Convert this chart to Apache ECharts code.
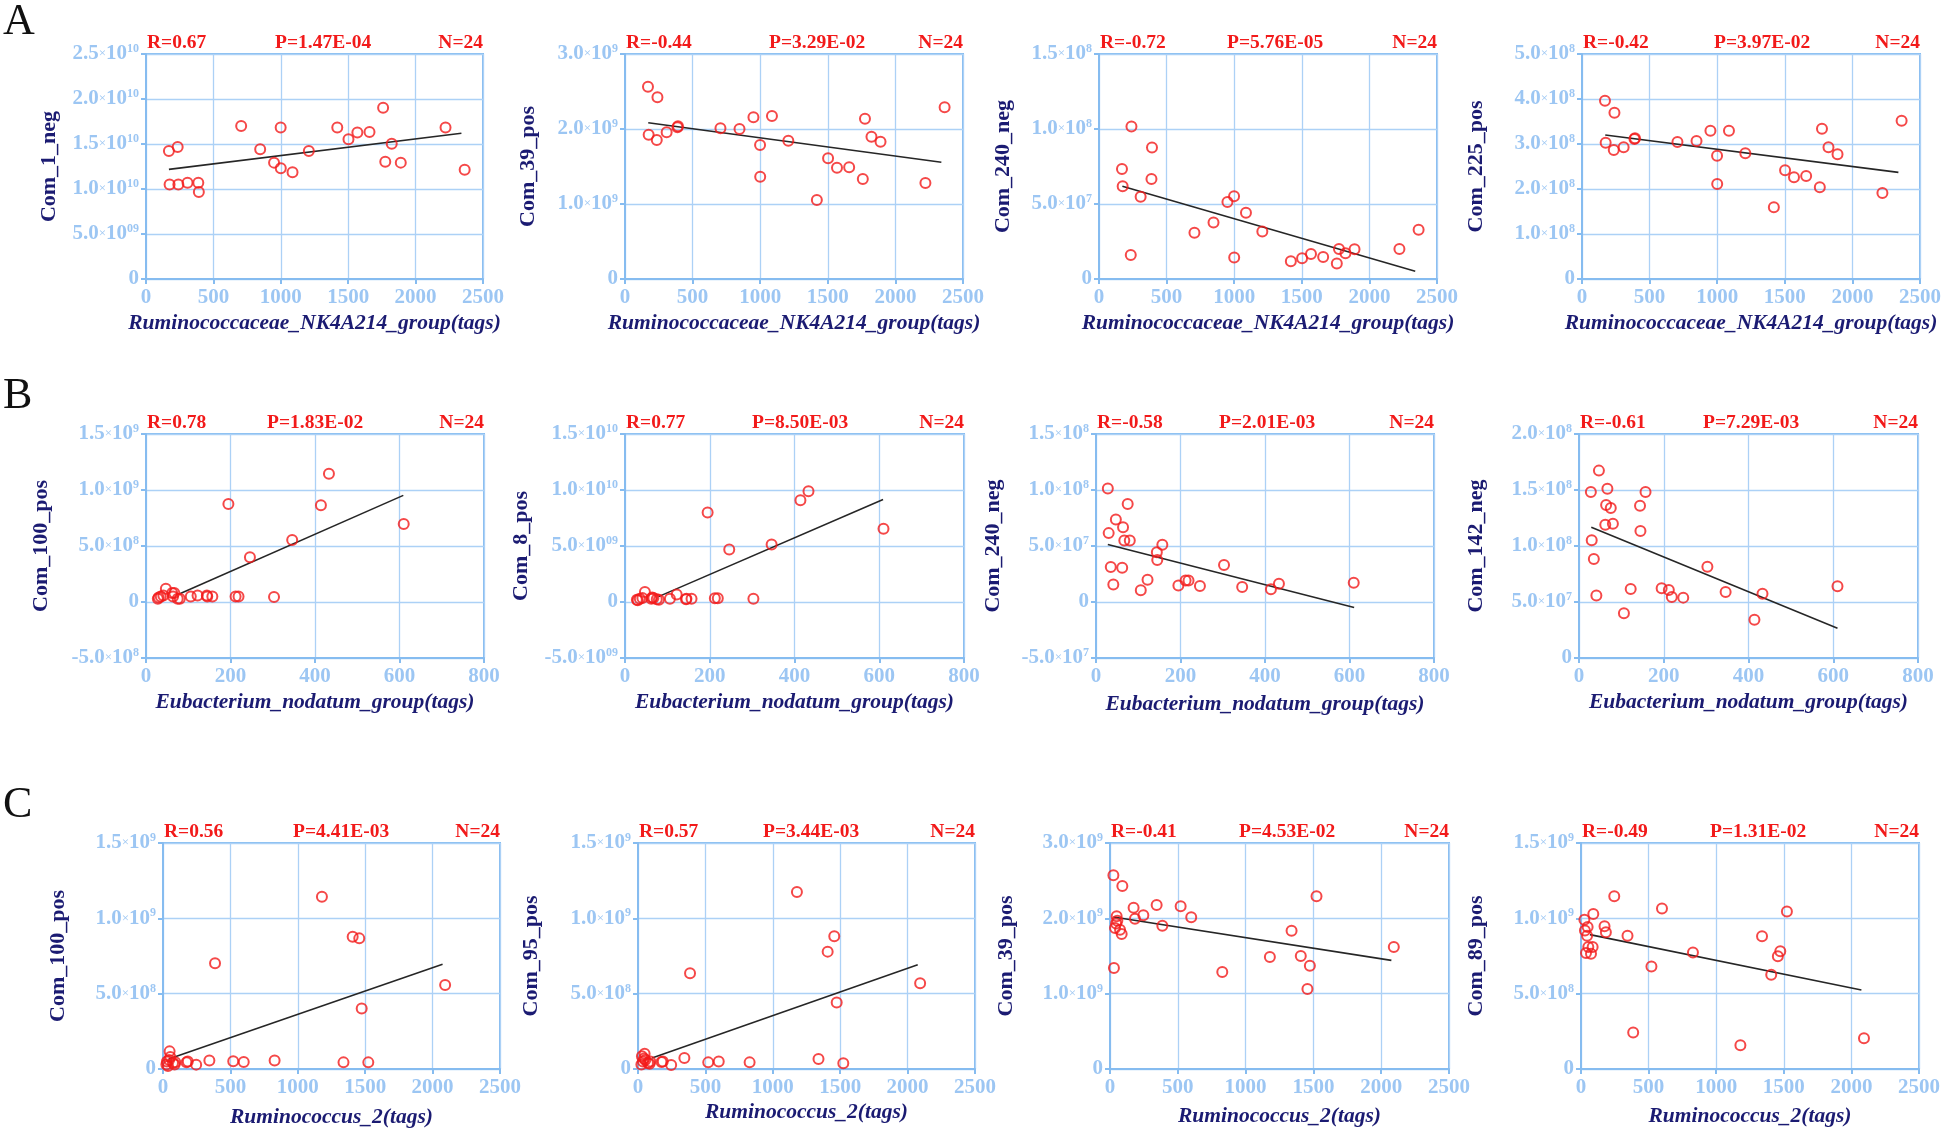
<!DOCTYPE html>
<html><head><meta charset="utf-8">
<script src="https://cdn.jsdelivr.net/npm/echarts@6/dist/echarts.min.js"></script>
<style>html,body{margin:0;padding:0;background:#fff}#c{width:1944px;height:1134px}</style>
</head><body><div id="c"></div>
<script>
// ---------------- DATA ----------------
const xTicks2500 = ['0','500','1000','1500','2000','2500'];
const xTicks800 = ['0','200','400','600','800'];
const xNameA = 'Ruminococcaceae_NK4A214_group(tags)';
const xNameB = 'Eubacterium_nodatum_group(tags)';
const xNameC = 'Ruminococcus_2(tags)';

const xRowA = [170,175,235,240,308,388,392,706,847,950,999,1000,1087,1208,1419,1502,1568,1658,1759,1775,1823,1890,2222,2364];
const xRowB = [28,30,35,41,47,62,64,67,75,80,106,122,144,145,157,195,212,219,246,303,346,414,433,610];
const xRowC = [25,29,37,45,49,54,74,86,91,174,184,246,344,386,521,599,828,1179,1339,1407,1456,1474,1523,2093];

const yA1_Com_1_neg = [1.423e10,1.051e10,1.467e10,1.051e10,1.07e10,1.07e10,0.966e10,1.70e10,1.441e10,1.293e10,1.683e10,1.23e10,1.185e10,1.423e10,1.683e10,1.553e10,1.627e10,1.634e10,1.902e10,1.304e10,1.504e10,1.293e10,1.683e10,1.215e10];
const yA2_Com_39_pos = [2.564e9,1.924e9,1.853e9,2.422e9,1.956e9,2.022e9,2.036e9,2.009e9,2.0e9,2.156e9,1.787e9,1.364e9,2.173e9,1.844e9,1.053e9,1.609e9,1.484e9,1.489e9,1.333e9,2.138e9,1.898e9,1.831e9,1.28e9,2.289e9];
const yA3_Com_240_neg = [7.33e7,6.18e7,1.6e7,10.16e7,5.49e7,6.67e7,8.76e7,3.09e7,3.76e7,5.13e7,5.51e7,1.44e7,4.42e7,3.16e7,1.18e7,1.38e7,1.67e7,1.47e7,1.04e7,2.0e7,1.71e7,1.98e7,2.0e7,3.29e7];
const yA4_Com_225_pos = [3.963e8,3.03e8,2.867e8,3.696e8,2.926e8,3.111e8,3.13e8,3.044e8,3.067e8,3.296e8,2.741e8,2.111e8,3.296e8,2.793e8,1.593e8,2.415e8,2.259e8,2.289e8,2.037e8,3.341e8,2.926e8,2.770e8,1.911e8,3.519e8];

const yB1_Com_100_pos = [0.03e9,0.04e9,0.05e9,0.057e9,0.119e9,0.08e9,0.05e9,0.08e9,0.03e9,0.03e9,0.05e9,0.057e9,0.057e9,0.05e9,0.05e9,0.875e9,0.05e9,0.05e9,0.399e9,0.045e9,0.554e9,0.863e9,1.146e9,0.696e9];
const yB2_Com_8_pos = [0.02e10,0.015e10,0.03e10,0.035e10,0.089e10,0.03e10,0.04e10,0.035e10,0.025e10,0.02e10,0.03e10,0.068e10,0.025e10,0.028e10,0.03e10,0.799e10,0.033e10,0.033e10,0.469e10,0.03e10,0.514e10,0.909e10,0.989e10,0.653e10];
const yB3_Com_240_neg = [10.13e7,6.15e7,3.12e7,1.57e7,7.37e7,3.06e7,6.68e7,5.49e7,8.76e7,5.49e7,1.04e7,1.99e7,4.45e7,3.74e7,5.11e7,1.48e7,1.93e7,1.93e7,1.43e7,3.3e7,1.34e7,1.13e7,1.63e7,1.72e7];
const yB4_Com_142_neg = [1.482e8,1.051e8,0.884e8,0.557e8,1.673e8,1.19e8,1.366e8,1.512e8,1.339e8,1.199e8,0.399e8,0.616e8,1.36e8,1.134e8,1.482e8,0.622e8,0.607e8,0.545e8,0.539e8,0.815e8,0.589e8,0.342e8,0.574e8,0.64e8];

const yC1_Com_100_pos = [0.03e9,0.05e9,0.02e9,0.06e9,0.117e9,0.08e9,0.04e9,0.03e9,0.045e9,0.044e9,0.05e9,0.029e9,0.057e9,0.702e9,0.051e9,0.046e9,0.057e9,1.143e9,0.044e9,0.878e9,0.867e9,0.401e9,0.044e9,0.558e9];
const yC2_Com_95_pos = [0.03e9,0.084e9,0.05e9,0.07e9,0.102e9,0.06e9,0.04e9,0.035e9,0.05e9,0.046e9,0.05e9,0.027e9,0.073e9,0.635e9,0.044e9,0.049e9,0.044e9,1.175e9,0.066e9,0.779e9,0.881e9,0.442e9,0.038e9,0.569e9];
const yC3_Com_39_pos = [2.571e9,1.341e9,1.872e9,1.93e9,2.027e9,1.969e9,1.85e9,1.792e9,2.429e9,2.142e9,1.996e9,2.04e9,2.177e9,1.903e9,2.159e9,2.013e9,1.288e9,1.487e9,1.836e9,1.5e9,1.062e9,1.372e9,2.292e9,1.619e9];
const yC4_Com_89_pos = [0.991e9,0.92e9,0.77e9,0.885e9,0.942e9,0.81e9,0.765e9,0.81e9,1.029e9,0.947e9,0.907e9,1.146e9,0.885e9,0.243e9,0.681e9,1.066e9,0.774e9,0.157e9,0.881e9,0.626e9,0.748e9,0.781e9,1.046e9,0.204e9];

// regression line end points
const fitA1 = [[170,1.218e10],[2340,1.62e10]];
const fitA2 = [[172,2.084e9],[2340,1.556e9]];
const fitA3 = [[173,6.18e7],[2339,5.1e6]];
const fitA4 = [[172,3.2e8],[2340,2.37e8]];
const fitB1 = [[80,7.4e7],[609,9.52e8]];
const fitB2 = [[79,4.8e8],[609,9.15e9]];
const fitB3 = [[28,5.14e7],[611,-5.0e6]];
const fitB4 = [[29,1.167e8],[610,2.65e7]];
const fitC1 = [[42,6.6e7],[2074,6.95e8]];
const fitC2 = [[104,7.3e7],[2075,6.92e8]];
const fitC3 = [[25,2.018e9],[2075,1.442e9]];
const fitC4 = [[66,8.92e8],[2074,5.24e8]];

const yTicksA1 = ['0','5.0×10^09','1.0×10^10','1.5×10^10','2.0×10^10','2.5×10^10'];
const yTicksA2 = ['0','1.0×10^9','2.0×10^9','3.0×10^9'];
const yTicksA3 = ['0','5.0×10^7','1.0×10^8','1.5×10^8'];
const yTicksA4 = ['0','1.0×10^8','2.0×10^8','3.0×10^8','4.0×10^8','5.0×10^8'];
const yTicksB1 = ['-5.0×10^8','0','5.0×10^8','1.0×10^9','1.5×10^9'];
const yTicksB2 = ['-5.0×10^09','0','5.0×10^09','1.0×10^10','1.5×10^10'];
const yTicksB3 = ['-5.0×10^7','0','5.0×10^7','1.0×10^8','1.5×10^8'];
const yTicksB4 = ['0','5.0×10^7','1.0×10^8','1.5×10^8','2.0×10^8'];
const yTicksC1 = ['0','5.0×10^8','1.0×10^9','1.5×10^9'];
const yTicksC2 = ['0','5.0×10^8','1.0×10^9','1.5×10^9'];
const yTicksC3 = ['0','1.0×10^9','2.0×10^9','3.0×10^9'];
const yTicksC4 = ['0','5.0×10^8','1.0×10^9','1.5×10^9'];

const statsR = ['R=0.67','R=-0.44','R=-0.72','R=-0.42','R=0.78','R=0.77','R=-0.58','R=-0.61','R=0.56','R=0.57','R=-0.41','R=-0.49'];
const statsP = ['P=1.47E-04','P=3.29E-02','P=5.76E-05','P=3.97E-02','P=1.83E-02','P=8.50E-03','P=2.01E-03','P=7.29E-03','P=4.41E-03','P=3.44E-03','P=4.53E-02','P=1.31E-02'];
const statsN = ['N=24','N=24','N=24','N=24','N=24','N=24','N=24','N=24','N=24','N=24','N=24','N=24'];
const yNames = ['Com_1_neg','Com_39_pos','Com_240_neg','Com_225_pos','Com_100_pos','Com_8_pos','Com_240_neg','Com_142_neg','Com_100_pos','Com_95_pos','Com_39_pos','Com_89_pos'];
const panelLetters = ['A','B','C'];

const panels = [
 {x:xRowA,y:yA1_Com_1_neg,fit:fitA1,xName:xNameA,xMax:2500,xInt:500,xT:xTicks2500,yMin:0,yMax:2.5e10,yInt:5e9,yT:yTicksA1},
 {x:xRowA,y:yA2_Com_39_pos,fit:fitA2,xName:xNameA,xMax:2500,xInt:500,xT:xTicks2500,yMin:0,yMax:3e9,yInt:1e9,yT:yTicksA2},
 {x:xRowA,y:yA3_Com_240_neg,fit:fitA3,xName:xNameA,xMax:2500,xInt:500,xT:xTicks2500,yMin:0,yMax:1.5e8,yInt:5e7,yT:yTicksA3},
 {x:xRowA,y:yA4_Com_225_pos,fit:fitA4,xName:xNameA,xMax:2500,xInt:500,xT:xTicks2500,yMin:0,yMax:5e8,yInt:1e8,yT:yTicksA4},
 {x:xRowB,y:yB1_Com_100_pos,fit:fitB1,xName:xNameB,xMax:800,xInt:200,xT:xTicks800,yMin:-5e8,yMax:1.5e9,yInt:5e8,yT:yTicksB1},
 {x:xRowB,y:yB2_Com_8_pos,fit:fitB2,xName:xNameB,xMax:800,xInt:200,xT:xTicks800,yMin:-5e9,yMax:1.5e10,yInt:5e9,yT:yTicksB2},
 {x:xRowB,y:yB3_Com_240_neg,fit:fitB3,xName:xNameB,xMax:800,xInt:200,xT:xTicks800,yMin:-5e7,yMax:1.5e8,yInt:5e7,yT:yTicksB3},
 {x:xRowB,y:yB4_Com_142_neg,fit:fitB4,xName:xNameB,xMax:800,xInt:200,xT:xTicks800,yMin:0,yMax:2e8,yInt:5e7,yT:yTicksB4},
 {x:xRowC,y:yC1_Com_100_pos,fit:fitC1,xName:xNameC,xMax:2500,xInt:500,xT:xTicks2500,yMin:0,yMax:1.5e9,yInt:5e8,yT:yTicksC1},
 {x:xRowC,y:yC2_Com_95_pos,fit:fitC2,xName:xNameC,xMax:2500,xInt:500,xT:xTicks2500,yMin:0,yMax:1.5e9,yInt:5e8,yT:yTicksC2},
 {x:xRowC,y:yC3_Com_39_pos,fit:fitC3,xName:xNameC,xMax:2500,xInt:500,xT:xTicks2500,yMin:0,yMax:3e9,yInt:1e9,yT:yTicksC3},
 {x:xRowC,y:yC4_Com_89_pos,fit:fitC4,xName:xNameC,xMax:2500,xInt:500,xT:xTicks2500,yMin:0,yMax:1.5e9,yInt:5e8,yT:yTicksC4}
];

// ---------------- LAYOUT ----------------
const layout = [
 {l:146,t:54,w:337,h:225,yc:98,xg:33,p:129},
 {l:625,t:54,w:338,h:225,yc:98,xg:33,p:144},
 {l:1099,t:54,w:338,h:225,yc:97,xg:33,p:128},
 {l:1582,t:54,w:338,h:225,yc:107,xg:33,p:132},
 {l:146,t:434,w:338,h:224,yc:106,xg:33,p:121},
 {l:625,t:434,w:339,h:224,yc:105,xg:33,p:127},
 {l:1096,t:434,w:338,h:224,yc:104,xg:35,p:123},
 {l:1579,t:434,w:339,h:224,yc:104,xg:33,p:124},
 {l:163,t:843,w:337,h:226,yc:106,xg:37,p:130},
 {l:638,t:843,w:337,h:226,yc:108,xg:32,p:125},
 {l:1110,t:843,w:339,h:226,yc:105,xg:36,p:129},
 {l:1581,t:843,w:338,h:226,yc:106,xg:36,p:129}
];
const letterPos = [{x:3,y:22},{x:3,y:396},{x:3,y:805}];

const FONT = '"Liberation Serif","Times New Roman",serif';
const TICK = '#9cc6f3';
const AXIS = '#86bcf0';
const GRIDC = '#acd1f6';
const NAVY = '#1b1b72';
const RED = '#f21a1a';

function richLabel(s){
  if (s.indexOf('^') < 0) return '{m|' + s + '}';
  const parts = s.split('^');
  const mant = parts[0].split('×')[0];
  return '{m|' + mant + '}{x|×}{m|10}{s|' + parts[1] + '}';
}

const option = {
  backgroundColor:'#ffffff',
  animation:false,
  grid:[], xAxis:[], yAxis:[], series:[], graphic:[]
};

panels.forEach((p,i)=>{
  const L = layout[i];
  option.grid.push({left:L.l, top:L.t, width:L.w, height:L.h, show:true, borderColor:AXIS, borderWidth:2, containLabel:false});
  option.xAxis.push({
    type:'value', gridIndex:i, min:0, max:p.xMax, interval:p.xInt,
    name:p.xName, nameLocation:'middle', nameGap:L.xg,
    nameTextStyle:{fontFamily:FONT, fontSize:21.5, fontWeight:'bold', fontStyle:'italic', color:NAVY},
    axisLine:{show:true, onZero:false, lineStyle:{color:AXIS, width:2}},
    axisTick:{show:true, length:5, lineStyle:{color:AXIS, width:2}},
    splitLine:{show:true, lineStyle:{color:GRIDC, width:1.3}},
    axisLabel:{margin:8, fontFamily:FONT, fontSize:21, fontWeight:'bold', color:TICK,
      showMaxLabel:true, showMinLabel:true,
      formatter:(v,idx)=>p.xT[idx]!==undefined?p.xT[idx]:''}
  });
  option.yAxis.push({
    type:'value', gridIndex:i, min:p.yMin, max:p.yMax, interval:p.yInt,
    name:yNames[i], nameLocation:'middle', nameGap:L.yc-12, nameRotate:90,
    nameTextStyle:{fontFamily:FONT, fontSize:22, fontWeight:'bold', color:NAVY},
    axisLine:{show:true, onZero:false, lineStyle:{color:AXIS, width:2}},
    axisTick:{show:true, length:5, lineStyle:{color:AXIS, width:2}},
    splitLine:{show:true, lineStyle:{color:GRIDC, width:1.3}},
    axisLabel:{margin:7, showMaxLabel:true, showMinLabel:true,
      formatter:(v,idx)=>richLabel(p.yT[idx]!==undefined?p.yT[idx]:''),
      rich:{
        m:{fontFamily:FONT, fontSize:21, fontWeight:'bold', color:TICK, lineHeight:22},
        x:{fontFamily:FONT, fontSize:13, fontWeight:'normal', color:TICK, lineHeight:22},
        s:{fontFamily:FONT, fontSize:12, fontWeight:'bold', color:TICK, verticalAlign:'top', lineHeight:12}
      }}
  });
  option.series.push({
    type:'scatter', xAxisIndex:i, yAxisIndex:i,
    data:p.x.map((xv,k)=>[xv,p.y[k]]),
    symbol:'circle', symbolSize:10,
    itemStyle:{color:'rgba(255,255,255,0)', borderColor:RED, borderWidth:2},
    z:3
  });
  option.series.push({
    type:'line', xAxisIndex:i, yAxisIndex:i, data:p.fit,
    symbol:'none', lineStyle:{color:'#262626', width:1.6}, z:2, silent:true
  });
  const ty = L.t - 11;
  const sfont = 'bold 19.5px ' + FONT;
  option.graphic.push({type:'text', x:L.l+1, y:ty, style:{text:statsR[i], font:sfont, fill:RED, align:'left', verticalAlign:'middle'}});
  option.graphic.push({type:'text', x:L.l+L.p, y:ty, style:{text:statsP[i], font:sfont, fill:RED, align:'left', verticalAlign:'middle'}});
  option.graphic.push({type:'text', x:L.l+L.w, y:ty, style:{text:statsN[i], font:sfont, fill:RED, align:'right', verticalAlign:'middle'}});
});
panelLetters.forEach((s,k)=>{
  option.graphic.push({type:'text', x:letterPos[k].x, y:letterPos[k].y, style:{text:s, font:'44px ' + FONT, fill:'#111', align:'left', verticalAlign:'middle'}});
});

const chart = echarts.init(document.getElementById('c'), null, {renderer:'canvas'});
chart.setOption(option);
</script>
</body></html>
